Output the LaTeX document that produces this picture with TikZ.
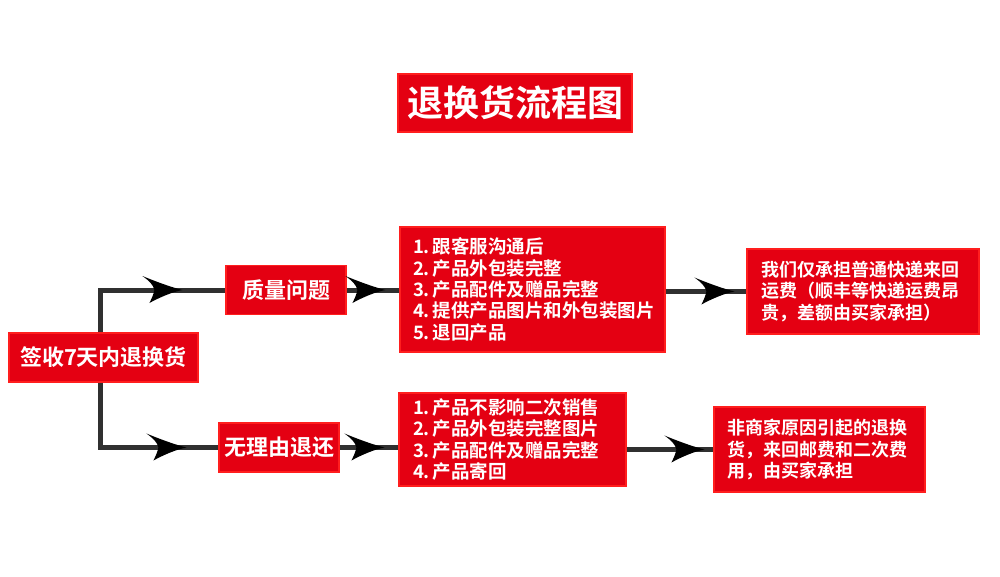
\documentclass[tikz,border=0pt]{standalone}
\usepackage{fontspec}
\setmainfont{Noto Sans CJK SC}[BoldFont={Noto Sans CJK SC Bold}]
\usetikzlibrary{decorations.markings,calc}
\definecolor{boxred}{RGB}{228,0,18}
\definecolor{edgered}{RGB}{255,30,30}
\definecolor{linegray}{RGB}{48,48,48}
\newcommand{\itm}[1]{#1.\kern3pt}
\tikzset{
  redbox/.style={fill=boxred, draw=edgered, line width=1.2pt, text=white,
    font=\bfseries\fontsize{22}{26}\selectfont, inner sep=0pt},
  listbox/.style={redbox, font=\bfseries\fontsize{18.5}{21.4}\selectfont, align=left},
  conn/.style={draw=linegray, line width=5pt},
  headat/.style={postaction={decorate}, decoration={markings,
    mark=at position #1 with {\fill[black] (0,0) .. controls (-12,-3) and (-28,-9) .. (-40,-14)
      .. controls (-33,-9) and (-29,-5) .. (-28,0)
      .. controls (-29,5) and (-31,9) .. (-33,13)
      .. controls (-22,7) and (-10,2) .. (0,0) -- cycle;}}}
}
\begin{document}
\begin{tikzpicture}[x=1pt,y=-1pt]
\useasboundingbox[fill=white] (0,0) rectangle (1000,577);
\node[redbox, minimum width=234, minimum height=58, font=\bfseries\fontsize{36}{40}\selectfont] (title) at (515,103) {退换货流程图};
\node[redbox, minimum width=189, minimum height=49] (start) at (103.5,357.5) {签收7天内退换货};
\node[redbox, minimum width=120, minimum height=49] (q) at (286,290) {质量问题};
\node[redbox, minimum width=120, minimum height=49] (n) at (279,447.5) {无理由退还};
\node[listbox, minimum width=265, minimum height=125, text width=239] (b2) at (532.5,289.5)
  {\itm{1}跟客服沟通后\\\itm{2}产品外包装完整\\\itm{3}产品配件及赠品完整\\\itm{4}提供产品图片和外包装图片\\\itm{5}退回产品};
\node[listbox, minimum width=232, minimum height=85, text width=204, font=\bfseries\fontsize{18}{21.4}\selectfont] (r1) at (863,291.5)
  {我们仅承担普通快递来回\\运费（顺丰等快递运费昂\\贵，差额由买家承担）};
\node[listbox, minimum width=227, minimum height=93, text width=199] (b3) at (512.5,439.5)
  {\itm{1}产品不影响二次销售\\\itm{2}产品外包装完整图片\\\itm{3}产品配件及赠品完整\\\itm{4}产品寄回};
\node[listbox, minimum width=211, minimum height=85, text width=184, font=\bfseries\fontsize{18}{21.4}\selectfont] (r2) at (819.5,449.5)
  {非商家原因引起的退换\\货，来回邮费和二次费\\用，由买家承担};
\draw[conn, headat=-43pt] ($(start.north)+(-3.5,0)$) |- (q.west);
\draw[conn, headat=-32pt] ($(start.south)+(-3.5,0)$) |- (n.west);
\draw[conn, headat=-14pt] (q.east) -- (q.east -| b2.west);
\draw[conn, headat=-14pt] (n.east) -- (n.east -| b3.west);
\draw[conn, headat=-12pt] (r1.west -| b2.east) -- (r1.west);
\draw[conn, headat=-9pt] (r2.west -| b3.east) -- (r2.west);
\end{tikzpicture}
\end{document}
